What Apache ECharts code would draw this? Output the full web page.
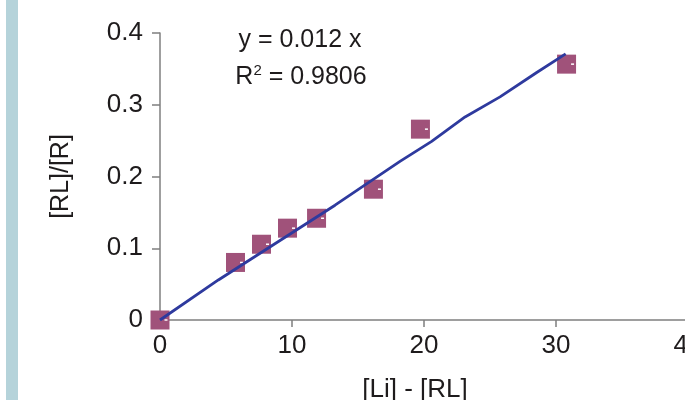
<!DOCTYPE html>
<html>
<head>
<meta charset="utf-8">
<script src="https://cdn.jsdelivr.net/npm/echarts@6/dist/echarts.min.js"></script>
<style>
  html, body { margin: 0; padding: 0; background: #fff; }
  #chart { width: 685px; height: 400px; }
</style>
</head>
<body>
<div id="chart"></div>
<script>
// 数据点 x = [Li] - [RL], y = [RL]/[R]
const liMinusRl = [0, 5.72, 7.69, 9.66, 11.86, 16.17, 19.73, 30.8];
const rlOverR = [0, 0.0802, 0.1056, 0.128, 0.1418, 0.1823, 0.266, 0.3566];

// 趋势线 (y = 0.012 x)
const trendX = [0, 4.42, 13.26, 18.18, 20.58, 23.11, 25.76, 28.54, 30.73];
const trendY = [0, 0.0558, 0.160, 0.221, 0.249, 0.283, 0.311, 0.345, 0.371];

const xTicks = [0, 10, 20, 30, 40];
const yTicks = [0, 0.1, 0.2, 0.3, 0.4];

const font = 'Liberation Sans, Arial, Helvetica, sans-serif';
const axisGrey = '#7f7f7f';
const textColor = '#1e1b1c';

const points = liMinusRl.map((x, i) => [x, rlOverR[i]]);
const trend = trendX.map((x, i) => [x, trendY[i]]);

const chart = echarts.init(document.getElementById('chart'));
chart.setOption({
  animation: false,
  backgroundColor: '#fff',
  grid: { left: 160, top: 33, width: 528, height: 287, outerBoundsMode: 'none', containLabel: false },
  xAxis: {
    type: 'value',
    min: xTicks[0],
    max: xTicks[xTicks.length - 1],
    interval: 10,
    splitLine: { show: false },
    axisLine: { lineStyle: { color: axisGrey, width: 1.5 } },
    axisTick: { length: 7, lineStyle: { color: axisGrey, width: 1.5 } },
    axisLabel: { color: textColor, fontSize: 26, fontFamily: font, margin: 13 },
    name: '[Li] - [RL]',
    nameLocation: 'middle',
    nameGap: 57,
    nameTextStyle: { color: textColor, fontSize: 26, fontFamily: font, padding: [0, 18, 0, 0] }
  },
  yAxis: {
    type: 'value',
    min: yTicks[0],
    max: yTicks[yTicks.length - 1],
    interval: 0.1,
    splitLine: { show: false },
    axisLine: { lineStyle: { color: axisGrey, width: 1.5 } },
    axisTick: { length: 8, lineStyle: { color: axisGrey, width: 1.5 } },
    axisLabel: { color: textColor, fontSize: 26, fontFamily: font, margin: 17 },
    name: '[RL]/[R]',
    nameLocation: 'middle',
    nameGap: 86,
    nameTextStyle: { color: textColor, fontSize: 25, fontFamily: font }
  },
  series: [
    {
      type: 'scatter',
      data: points,
      symbol: 'rect',
      symbolSize: 19,
      clip: false,
      itemStyle: { color: '#a0527a', opacity: 1 },
      z: 3
    },
    {
      // 标记中的白色小点
      type: 'scatter',
      data: points,
      symbol: 'rect',
      symbolSize: [3, 1.5],
      symbolOffset: [6, 0],
      clip: false,
      itemStyle: { color: '#ffffff', opacity: 1 },
      z: 4
    },
    {
      type: 'line',
      data: trend,
      showSymbol: false,
      lineStyle: { color: '#2e3a9e', width: 2.8 },
      z: 5
    }
  ],
  graphic: [
    {
      type: 'rect',
      left: 6, top: 0,
      shape: { width: 12, height: 400 },
      style: { fill: '#b5d3da' },
      silent: true
    },
    {
      type: 'text',
      x: 300, y: 40,
      style: {
        text: 'y = 0.012 x',
        font: '25px ' + font,
        fill: textColor,
        align: 'center',
        verticalAlign: 'middle'
      }
    },
    {
      type: 'text',
      x: 301, y: 77,
      style: {
        text: 'R{sup|2} = 0.9806',
        font: '25px ' + font,
        fill: textColor,
        align: 'center',
        verticalAlign: 'middle',
        rich: {
          sup: { fontSize: 15, fontFamily: font, fill: textColor, verticalAlign: 'bottom', padding: [0, 0, 12, 0] }
        }
      }
    }
  ]
});
</script>
</body>
</html>
